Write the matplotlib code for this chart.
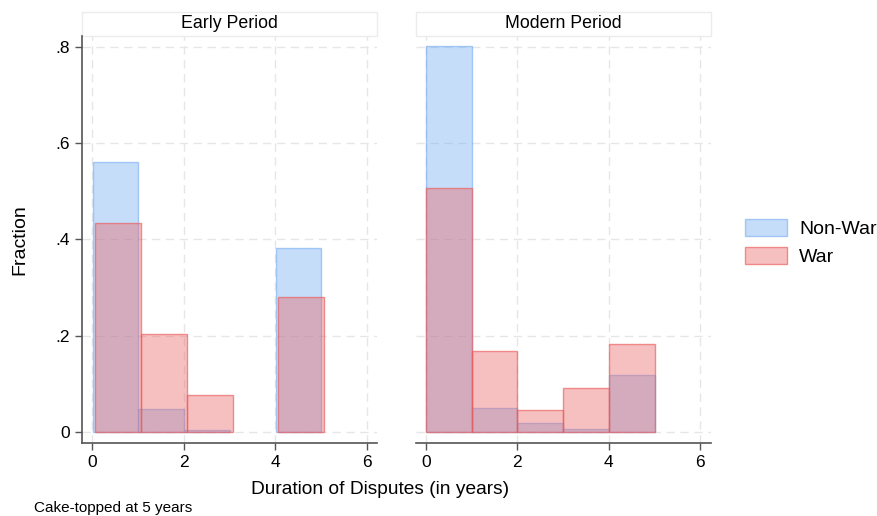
import matplotlib
matplotlib.use("Agg")
import matplotlib.pyplot as plt
from matplotlib.patches import Rectangle, Patch

plt.rcParams['font.family'] = ['Liberation Sans', 'DejaVu Sans']

# bin left edges and fractions
early_nonwar_left = [0.01, 1.01, 2.01, 4.01]
early_nonwar_frac = [0.560, 0.048, 0.005, 0.382]
early_war_left = [0.07, 1.07, 2.07, 4.07]
early_war_frac = [0.434, 0.204, 0.076, 0.281]

modern_nonwar_left = [0, 1, 2, 3, 4]
modern_nonwar_frac = [0.801, 0.050, 0.018, 0.007, 0.119]
modern_war_left = [0, 1, 2, 3, 4]
modern_war_frac = [0.507, 0.169, 0.045, 0.092, 0.183]

panels = ["Early Period", "Modern Period"]
xticks = [0, 2, 4, 6]
yticks = [0, 0.2, 0.4, 0.6, 0.8]
ytick_labels = ["0", ".2", ".4", ".6", ".8"]

blue_fill = (110/255, 172/255, 242/255, 0.4)
blue_edge = (120/255, 170/255, 245/255, 0.6)
red_fill = (235/255, 98/255, 98/255, 0.4)
red_edge = (235/255, 90/255, 90/255, 0.65)

fig = plt.figure(figsize=(8.78, 5.16), dpi=100)
ax1 = fig.add_axes([0.0934, 0.1415, 0.336, 0.789])
ax2 = fig.add_axes([0.4735, 0.1415, 0.336, 0.789])

data = [
    (early_nonwar_left, early_nonwar_frac, early_war_left, early_war_frac),
    (modern_nonwar_left, modern_nonwar_frac, modern_war_left, modern_war_frac),
]

for ax, title, (nl, nf, wl, wf) in zip([ax1, ax2], panels, data):
    ax.bar(nl, nf, width=1, align='edge', color=blue_fill,
           edgecolor=blue_edge, linewidth=1, zorder=2)
    ax.bar(wl, wf, width=1, align='edge', color=red_fill,
           edgecolor=red_edge, linewidth=1, zorder=3)
    ax.set_xlim(-0.225, 6.23)
    ax.set_ylim(-0.0228, 0.823)
    ax.set_xticks(xticks)
    ax.set_yticks(yticks)
    ax.grid(True, linestyle=(0, (6, 4)), color='#e6e6e6', linewidth=1, zorder=0)
    ax.set_axisbelow(True)
    for s in ['top', 'right']:
        ax.spines[s].set_visible(False)
    ax.spines['bottom'].set_color('#555555')
    ax.spines['bottom'].set_linewidth(1.2)
    ax.spines['left'].set_color('#555555')
    ax.spines['left'].set_linewidth(1.2)
    ax.tick_params(axis='both', direction='out', length=5, color='#555555',
                   labelsize=12.5, width=1)
    # panel title strip
    ax.add_patch(Rectangle((0, 1.0), 1, 0.059, transform=ax.transAxes,
                           facecolor='white', edgecolor='#ececec',
                           linewidth=1, clip_on=False))
    ax.text(0.5, 1.0295, title, transform=ax.transAxes, ha='center',
            va='center', fontsize=12.8)

ax1.set_yticklabels(ytick_labels)
ax2.spines['left'].set_visible(False)
ax2.tick_params(axis='y', left=False, labelleft=False)

fig.text(20/878, 1 - 240/516, "Fraction", rotation=90, ha='center',
         va='center', fontsize=14)
fig.text(380/878, 1 - 490/516, "Duration of Disputes (in years)",
         ha='center', va='center', fontsize=13.8)
fig.text(34/878, 1 - 508/516, "Cake-topped at 5 years", ha='left',
         va='center', fontsize=11)

handles = [Patch(facecolor=blue_fill, edgecolor=blue_edge, linewidth=1),
           Patch(facecolor=red_fill, edgecolor=red_edge, linewidth=1)]
fig.legend(handles, ["Non-War", "War"], loc='center left',
           bbox_to_anchor=(0.848, 0.53), frameon=False, fontsize=14,
           handlelength=2.2, handleheight=0.95, handletextpad=0.6,
           labelspacing=0.45, borderpad=0, borderaxespad=0)

fig.savefig("out.png", dpi=100)
